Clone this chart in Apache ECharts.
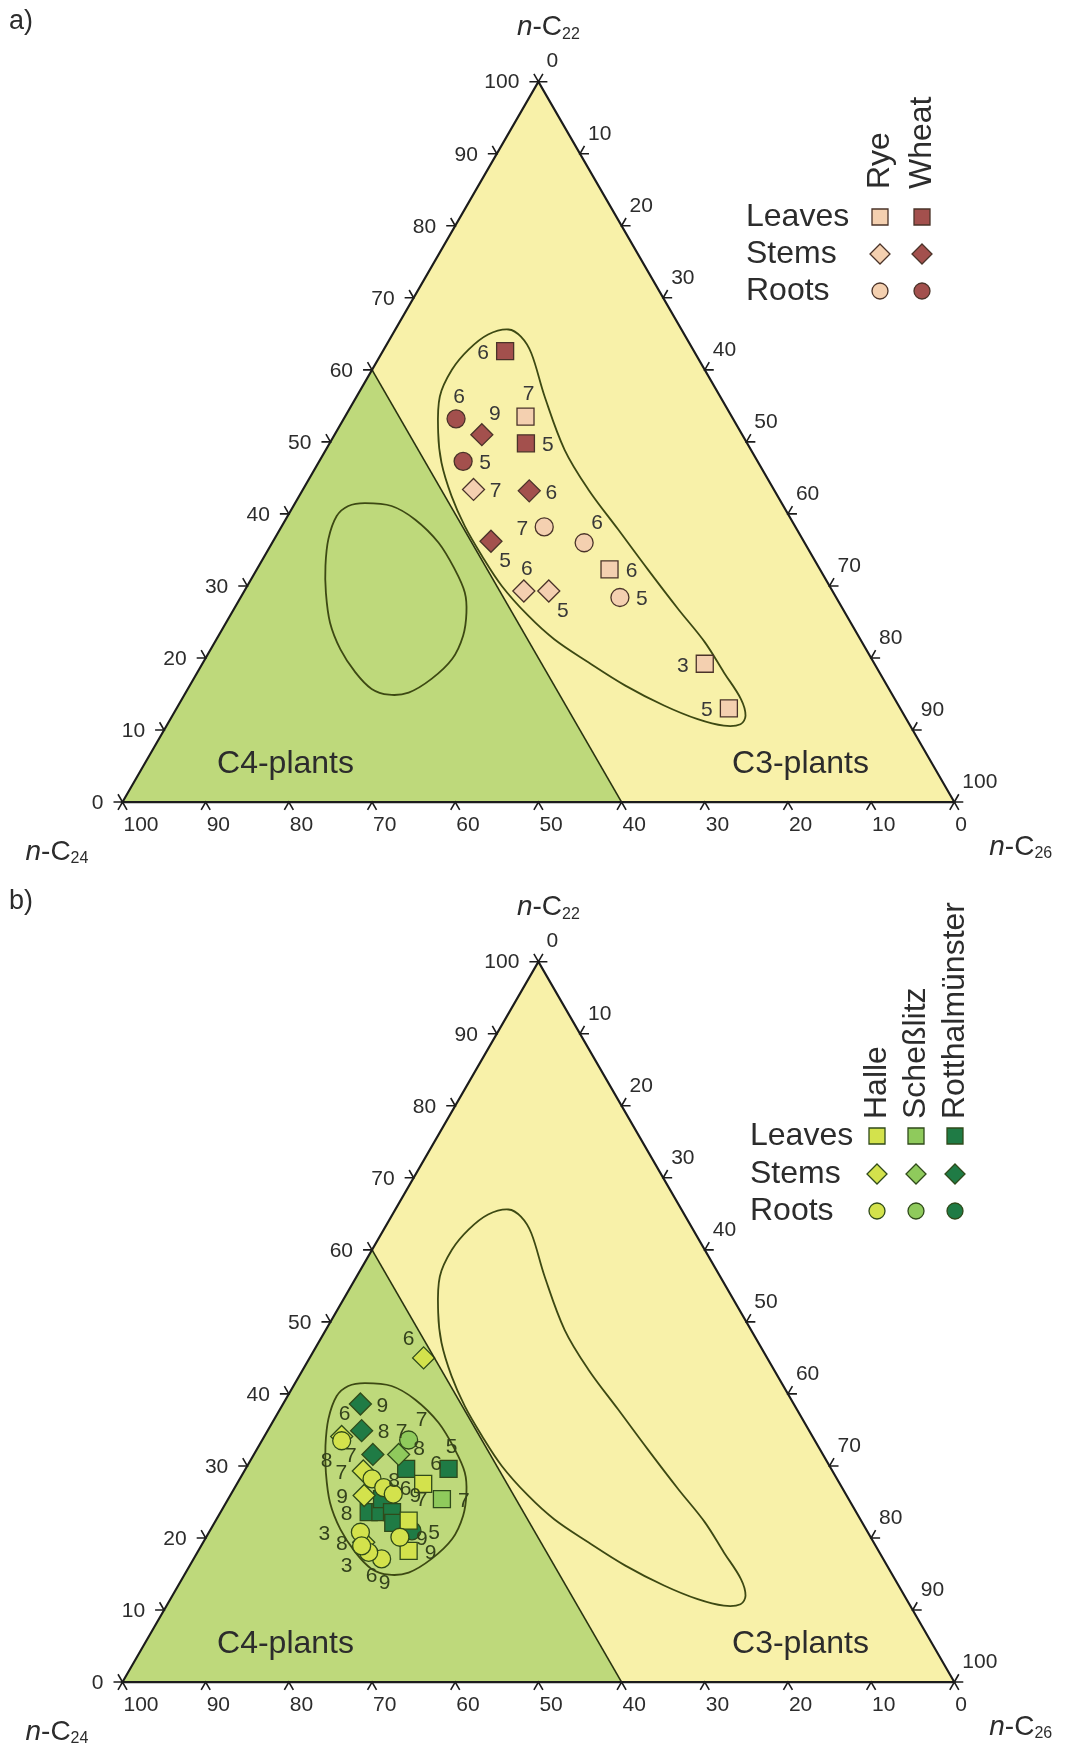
<!DOCTYPE html>
<html>
<head>
<meta charset="utf-8">
<script src="https://cdn.jsdelivr.net/npm/echarts/dist/echarts.min.js"></script>
<style>
html, body { margin: 0; padding: 0; background: #ffffff; }
#chart { width: 1067px; height: 1747px; }
</style>
</head>
<body>
<div id="chart"></div>
<script>
// Ternary points are stored as [n-C22 %, n-C26 %, replicate label, label side];
// n-C24 is the remainder to 100 %.

const axisTicks = [0, 10, 20, 30, 40, 50, 60, 70, 80, 90, 100];
const c4Limit = 40;          // n-C24 share above which C4 plants plot

// a) rye and wheat
const ryeLeaves   = [[53.5, 21.7, '7', 'T'], [32.3, 42.4, '6', 'R'], [19.2, 60.4, '3', 'L'], [13.0, 66.4, '5', 'L']];
const ryeStems    = [[43.4, 20.5, '7', 'R'], [29.3, 33.6, '6', 'T'], [29.3, 36.6, '5', 'BR']];
const ryeRoots    = [[38.2, 31.6, '7', 'L'], [36.0, 37.5, '6', 'TR'], [28.4, 45.6, '5', 'R']];
const wheatLeaves = [[62.6, 14.7, '6', 'L'], [49.8, 23.6, '5', 'R']];
const wheatStems  = [[51.0, 17.7, '9', 'TR'], [43.2, 27.3, '6', 'R'], [36.2, 26.2, '5', 'BR']];
const wheatRoots  = [[53.2, 13.5, '6', 'T'], [47.3, 17.3, '5', 'R']];

// b) maize at three sites
const halleLeaves = [[27.5, 22.4, '6', 'TR'], [22.4, 23.2, '7', 'TR'], [18.2, 25.3, '9', 'R']];
const halleStems  = [[45.0, 13.7, '6', 'TL'], [34.1, 9.3, '6', 'T'], [29.3, 14.3, '7', 'L'], [25.9, 16.1, '9', 'L'], [19.4, 19.3, '8', 'L']];
const halleRoots  = [[33.5, 9.6, '8', 'BL'], [28.2, 15.9, '8', 'R'], [27.0, 17.9, '6', 'R'], [26.1, 19.5, '9', 'R'],
                     [20.8, 18.2, '3', 'LL'], [20.1, 23.3, '9', 'R'], [17.1, 22.6, '9', 'B'], [18.0, 20.6, '6', 'B'], [18.9, 19.3, '3', 'BL']];
const scheLeaves  = [[25.4, 25.7, '7', 'R']];
const scheStems   = [[31.6, 17.4, '7', 'T']];
const scheRoots   = [[33.6, 17.6, '7', 'TR']];
const rottLeaves  = [[29.6, 19.3, '8', 'TR'], [29.6, 24.4, '5', 'T'], [23.6, 17.8, '8', 'L'], [23.6, 19.2, '', ''],
                     [25.4, 18.5, '', ''], [23.6, 20.6, '', ''], [22.1, 21.5, '', '']];
const rottStems   = [[38.6, 9.3, '9', 'R'], [34.9, 11.3, '8', 'R'], [31.6, 14.3, '7', 'L']];
const rottRoots   = [[21.0, 24.3, '5', 'R']];

// Typical compositional fields for C4 and C3 plants, [n-C22 %, n-C26 %]
const c4Field = [[41.5, 8.4], [41.1, 11.8], [39.2, 15.6], [36.0, 20.0], [32.3, 23.8], [29.1, 26.6], [26.3, 28.2],
                 [23.1, 29.4], [19.9, 29.7], [17.1, 28.6], [15.2, 26.8], [14.9, 24.6], [15.7, 22.1], [18.0, 19.0],
                 [21.2, 15.6], [24.9, 12.5], [29.1, 9.9], [32.8, 8.0], [36.5, 6.5], [39.7, 5.9], [41.1, 6.6]];
const c3Field = [[65.6, 13.6], [64.6, 15.6], [62.3, 18.0], [56.3, 22.6], [48.9, 28.7], [43.4, 34.3], [37.9, 40.6],
                 [32.3, 47.0], [26.8, 53.4], [22.2, 58.9], [18.0, 63.3], [14.3, 67.2], [12.0, 68.9], [10.8, 68.9],
                 [10.6, 67.0], [11.5, 63.4], [13.4, 58.4], [16.2, 52.3], [19.4, 46.3], [22.6, 40.6], [25.9, 35.8],
                 [30.0, 30.6], [34.2, 26.1], [38.3, 22.0], [42.5, 18.3], [47.1, 14.8], [51.3, 12.3], [56.3, 10.0],
                 [60.0, 9.6], [62.8, 10.2], [64.9, 11.5]];

const legendRows = ['Leaves', 'Stems', 'Roots'];
const legendColsA = ['Rye', 'Wheat'];
const legendColsB = ['Halle', 'Scheßlitz', 'Rotthalmünster'];

// ---------------------------------------------------------------------------
const FONT = "'Liberation Sans', Arial, Helvetica, sans-serif";
const TEXT = '#2c2c2c';
const C3_FILL = '#f8f1a9';
const C4_FILL = '#bed97b';
const FIELD_LINE = '#3d4913';
const FRAME = '#1c1c1c';
const SQ = Math.sqrt(3) / 2;

const COL = {
  rye: '#f4d0b0', wheat: '#a3504d',
  halle: '#d3e24c', sche: '#8fca5c', rott: '#1f7b45'
};
const EDGE_A = '#4a3329';
const EDGE_B = '#2f4a1a';

// position of a composition inside the unit triangle (side = 100)
function tern(c22, c26) { return [c26 + c22 / 2, c22 * SQ]; }

const SIDE = {
  T: [3, -22], B: [3, 24], L: [-22, 2], LL: [-36, 2], R: [22, 2],
  TL: [-15, -19], TR: [13, -20], BL: [-15, 20], BR: [14, 20], '': [0, 0]
};

const SYMBOL = {
  leaves: { symbol: 'rect', size: 17 },
  stems: { symbol: 'diamond', size: 22 },
  roots: { symbol: 'circle', size: 18 }
};

function scatter(gi, name, pts, organ, fill, edge, labelColor) {
  return {
    type: 'scatter', name, xAxisIndex: gi, yAxisIndex: gi, z: 3,
    symbol: SYMBOL[organ].symbol, symbolSize: SYMBOL[organ].size,
    itemStyle: { color: fill, borderColor: edge, borderWidth: 1.3, opacity: 1 },
    label: {
      show: true, position: 'inside', formatter: p => p.data.tag,
      color: labelColor, fontSize: 21, fontFamily: FONT
    },
    emphasis: { disabled: true },
    silent: true,
    data: pts.map(([c22, c26, tag, side]) => ({ value: tern(c22, c26), tag, label: { offset: SIDE[side] } }))
  };
}

function txt(x, y, text, size, align, vAlign, extra) {
  return Object.assign({
    type: 'text', x, y,
    style: {
      text, fontSize: size, fontFamily: FONT, fill: TEXT,
      align, textAlign: align, verticalAlign: vAlign, textVerticalAlign: vAlign
    }
  }, extra || {});
}

function axisTitle(x, y, sub, align) {
  return {
    type: 'text', x, y,
    style: {
      text: '{i|n}{n|-C}{s|' + sub + '}',
      align, textAlign: align, verticalAlign: 'middle', textVerticalAlign: 'middle',
      fill: TEXT, fontSize: 28, fontFamily: FONT,
      rich: {
        i: { fontStyle: 'italic', fontSize: 28, fontFamily: FONT, fill: TEXT, lineHeight: 30 },
        n: { fontSize: 28, fontFamily: FONT, fill: TEXT, lineHeight: 30 },
        s: { fontSize: 16, fontFamily: FONT, fill: TEXT, lineHeight: 13, verticalAlign: 'bottom' }
      }
    }
  };
}

const LEG = 9;
function chevron(p, a1, a2) {
  const d = a => [Math.cos(a * Math.PI / 180) * LEG, Math.sin(a * Math.PI / 180) * LEG];
  const d1 = d(a1), d2 = d(a2);
  return {
    type: 'polyline',
    shape: { points: [[p[0] + d1[0], p[1] + d1[1]], [p[0], p[1]], [p[0] + d2[0], p[1] + d2[1]]] },
    style: { stroke: FRAME, lineWidth: 1.6, fill: null }
  };
}

function regionSeries(gi) {
  return {
    type: 'custom', xAxisIndex: gi, yAxisIndex: gi, z: 1, silent: true, clip: false,
    data: [[0, 0]],
    renderItem: (params, api) => {
      const P = (a, b) => api.coord(tern(a, b));
      return {
        type: 'group', children: [
          { type: 'polygon', shape: { points: [P(0, 0), P(0, 100), P(100, 0)] }, style: { fill: C3_FILL } },
          { type: 'polygon', shape: { points: [P(0, 0), P(0, 100 - c4Limit), P(100 - c4Limit, 0)] }, style: { fill: C4_FILL } }
        ]
      };
    }
  };
}

function fieldSeries(gi) {
  return {
    type: 'custom', xAxisIndex: gi, yAxisIndex: gi, z: 2, silent: true, clip: false,
    data: [[0, 0]],
    renderItem: (params, api) => {
      const ring = f => ({
        type: 'polygon',
        shape: { points: f.map(([a, b]) => api.coord(tern(a, b))), smooth: 0.35 },
        style: { fill: null, stroke: FIELD_LINE, lineWidth: 1.8 }
      });
      return { type: 'group', children: [ring(c4Field), ring(c3Field)] };
    }
  };
}

function frameSeries(gi) {
  return {
    type: 'custom', xAxisIndex: gi, yAxisIndex: gi, z: 5, silent: true, clip: false,
    data: [[0, 0]],
    renderItem: (params, api) => {
      const P = (a, b) => api.coord(tern(a, b));
      const bl = P(0, 0), br = P(0, 100), top = P(100, 0);
      const kids = [];
      kids.push({ type: 'polyline', shape: { points: [P(100 - c4Limit, 0), P(0, 100 - c4Limit)] },
                  style: { stroke: '#2a3310', lineWidth: 1.6, fill: null } });
      kids.push({ type: 'polygon', shape: { points: [bl, br, top] },
                  style: { fill: null, stroke: FRAME, lineWidth: 2.2 } });
      axisTicks.forEach(v => {
        const pl = P(v, 0);              // n-C22 on the left edge
        const pb = P(0, 100 - v);        // n-C24 on the bottom edge
        const pr = P(100 - v, v);        // n-C26 on the right edge
        kids.push(chevron(pl, 180, 240));
        kids.push(chevron(pb, 120, 60));
        kids.push(chevron(pr, 300, 0));
        kids.push(txt(pl[0] - 19, pl[1] + 1, String(v), 21, 'right', 'middle'));
        kids.push(txt(pb[0] + 1, pb[1] + 23, String(v), 21, 'left', 'middle'));
        kids.push(txt(pr[0] + 8, pr[1] - 20, String(v), 21, 'left', 'middle'));
      });
      kids.push(axisTitle(top[0] + 10, top[1] - 54, '22', 'center'));
      kids.push(axisTitle(bl[0] - 97, bl[1] + 50, '24', 'left'));
      kids.push(axisTitle(br[0] + 35, br[1] + 45, '26', 'left'));
      kids.push(txt(bl[0] + 163, bl[1] - 38, 'C4-plants', 32, 'center', 'middle'));
      kids.push(txt(bl[0] + 678, bl[1] - 38, 'C3-plants', 32, 'center', 'middle'));
      return { type: 'group', children: kids };
    }
  };
}

// legend marker shapes
function marker(kind, cx, cy, fill, edge) {
  const style = { fill, stroke: edge, lineWidth: 1.3 };
  if (kind === 0) return { type: 'rect', shape: { x: cx - 8, y: cy - 8, width: 16, height: 16 }, style };
  if (kind === 1) return { type: 'polygon', shape: { points: [[cx, cy - 10], [cx + 10, cy], [cx, cy + 10], [cx - 10, cy]] }, style };
  return { type: 'circle', shape: { cx, cy, r: 8 }, style };
}

function legend(x0, rowY, colX, headBottom, cols, fills, edge) {
  const els = [];
  legendRows.forEach((r, i) => {
    els.push(txt(x0, rowY[i], r, 32, 'left', 'middle'));
    colX.forEach((cx, j) => els.push(marker(i, cx, rowY[i], fills[j], edge)));
  });
  cols.forEach((c, j) => els.push(txt(colX[j], headBottom, c, 32, 'left', 'middle', { rotation: Math.PI / 2 })));
  return els;
}

const PANEL_TOP = [81.7, 961.7];
const SIDE_PX = 831.8;

const chart = echarts.init(document.getElementById('chart'), null, { renderer: 'canvas' });
chart.setOption({
  animation: false,
  backgroundColor: '#ffffff',
  grid: PANEL_TOP.map(t => ({ left: 122.5, top: t, width: SIDE_PX, height: SIDE_PX * SQ })),
  xAxis: [0, 1].map(i => ({ gridIndex: i, type: 'value', min: 0, max: 100, show: false })),
  yAxis: [0, 1].map(i => ({ gridIndex: i, type: 'value', min: 0, max: 100 * SQ, show: false })),
  graphic: [
    txt(9, 22, 'a)', 27, 'left', 'middle'),
    txt(9, 902, 'b)', 27, 'left', 'middle'),
    ...legend(746, [217, 254, 291], [880, 922], 189, legendColsA, [COL.rye, COL.wheat], EDGE_A),
    ...legend(750, [1136, 1174, 1211], [877, 916, 955], 1119, legendColsB, [COL.halle, COL.sche, COL.rott], EDGE_B)
  ],
  series: [
    regionSeries(0), fieldSeries(0), frameSeries(0),
    regionSeries(1), fieldSeries(1), frameSeries(1),
    scatter(0, 'Rye leaves', ryeLeaves, 'leaves', COL.rye, EDGE_A, '#383838'),
    scatter(0, 'Rye stems', ryeStems, 'stems', COL.rye, EDGE_A, '#383838'),
    scatter(0, 'Rye roots', ryeRoots, 'roots', COL.rye, EDGE_A, '#383838'),
    scatter(0, 'Wheat leaves', wheatLeaves, 'leaves', COL.wheat, EDGE_A, '#383838'),
    scatter(0, 'Wheat stems', wheatStems, 'stems', COL.wheat, EDGE_A, '#383838'),
    scatter(0, 'Wheat roots', wheatRoots, 'roots', COL.wheat, EDGE_A, '#383838'),
    scatter(1, 'Rotthalmünster leaves', rottLeaves, 'leaves', COL.rott, EDGE_B, '#34421c'),
    scatter(1, 'Rotthalmünster stems', rottStems, 'stems', COL.rott, EDGE_B, '#34421c'),
    scatter(1, 'Rotthalmünster roots', rottRoots, 'roots', COL.rott, EDGE_B, '#34421c'),
    scatter(1, 'Scheßlitz leaves', scheLeaves, 'leaves', COL.sche, EDGE_B, '#34421c'),
    scatter(1, 'Scheßlitz stems', scheStems, 'stems', COL.sche, EDGE_B, '#34421c'),
    scatter(1, 'Scheßlitz roots', scheRoots, 'roots', COL.sche, EDGE_B, '#34421c'),
    scatter(1, 'Halle leaves', halleLeaves, 'leaves', COL.halle, EDGE_B, '#34421c'),
    scatter(1, 'Halle stems', halleStems, 'stems', COL.halle, EDGE_B, '#34421c'),
    scatter(1, 'Halle roots', halleRoots, 'roots', COL.halle, EDGE_B, '#34421c')
  ]
});
</script>
</body>
</html>
